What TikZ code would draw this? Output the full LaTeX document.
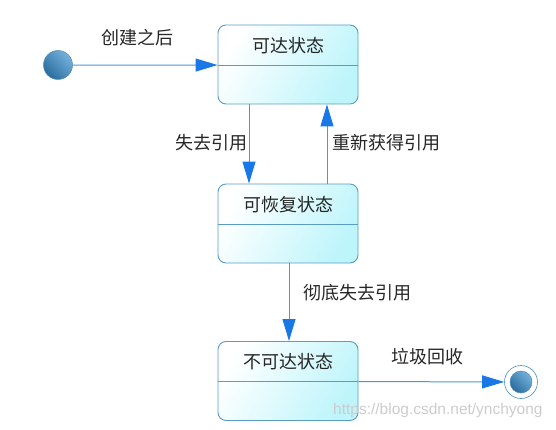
\documentclass[tikz,border=0pt]{standalone}
\usepackage{fontspec}
\newfontfamily\cjk{Noto Sans CJK SC}
\newfontfamily\wmfont{Liberation Sans}
\usetikzlibrary{arrows.meta,shadings}
\definecolor{boxline}{HTML}{5A9CC4}
\definecolor{boxfill}{HTML}{BDF5FB}
\definecolor{arrline}{HTML}{4896DC}
\definecolor{arrhead}{HTML}{1A78E6}
\definecolor{dotlight}{HTML}{74B2DC}
\definecolor{dotdark}{HTML}{2A6C9E}
\tikzset{
  statebox/.style={draw=boxline, line width=0.9pt, rounded corners=8pt,
    minimum width=140pt, minimum height=79pt, inner sep=0pt,
    left color=white, right color=boxfill, shading angle=60},
  divider/.style={draw=boxline, line width=0.8pt},
  lbl/.style={font=\cjk\fontsize{18}{18}\selectfont, text=black!85, inner sep=0pt},
  flow/.style={draw=arrline, line width=1pt,
    -{Triangle[length=22pt,width=13pt,color=arrhead,fill=arrhead]}},
  dotshade/.style={circle, inner sep=0pt, left color=dotlight, right color=dotdark,
    shading angle=-45, draw=dotdark!80, line width=0.5pt},
  startdot/.style={dotshade, minimum size=29pt},
  enddot/.style={dotshade, minimum size=22pt},
  endring/.style={circle, minimum size=33pt, inner sep=0pt, draw=boxline, line width=0.7pt, fill=white},
  wm/.style={font=\wmfont\fontsize{15.5}{15.5}\selectfont, text=black!20, inner sep=0pt}
}
\begin{document}
\begin{tikzpicture}[x=1pt,y=-1pt]
\useasboundingbox (0,0) rectangle (556,430);
% states
\node[statebox] (s1) at (288,64.5) {};
\node[statebox] (s2) at (288,223.5) {};
\node[statebox] (s3) at (288,381) {};
\foreach \s in {s1,s2,s3}{
  \coordinate (\s dl) at ([yshift=-40.5pt]\s.north west);
  \coordinate (\s dr) at ([yshift=-40.5pt]\s.north east);
  \draw[divider] (\s dl) -- (\s dr);
}
\node[lbl] (t1) at ([yshift=-21pt]s1.north) {可达状态};
\node[lbl] (t2) at ([yshift=-21pt]s2.north) {可恢复状态};
\node[lbl] (t3) at ([yshift=-21pt]s3.north) {不可达状态};
% start / end
\node[startdot] (start) at (58,65) {};
\node[endring] (endo) at (521,382) {};
\node[enddot] (endi) at (521,382) {};
% transitions
\draw[flow] (start) -- (s1dl);
\node[lbl] (l1) at (137,38) {创建之后};
\draw[flow] (s1.south -| 249,0) -- (s2.north -| 249,0);
\node[lbl] (l2) at (211,143) {失去引用};
\draw[flow] (s2.north -| 327,0) -- (s1.south -| 327,0);
\node[lbl, anchor=west] (l3) at (332,143) {重新获得引用};
\draw[flow] (s2.south -| 289,0) -- (s3.north -| 289,0);
\node[lbl] (l4) at (357,293) {彻底失去引用};
\draw[flow] (s3dr) -- (endo);
\node[lbl] (l5) at (427,357) {垃圾回收};
% watermark
\node[wm, anchor=west] (wmark) at (333,410) {https://blog.csdn.net/ynchyong};
\end{tikzpicture}
\end{document}
